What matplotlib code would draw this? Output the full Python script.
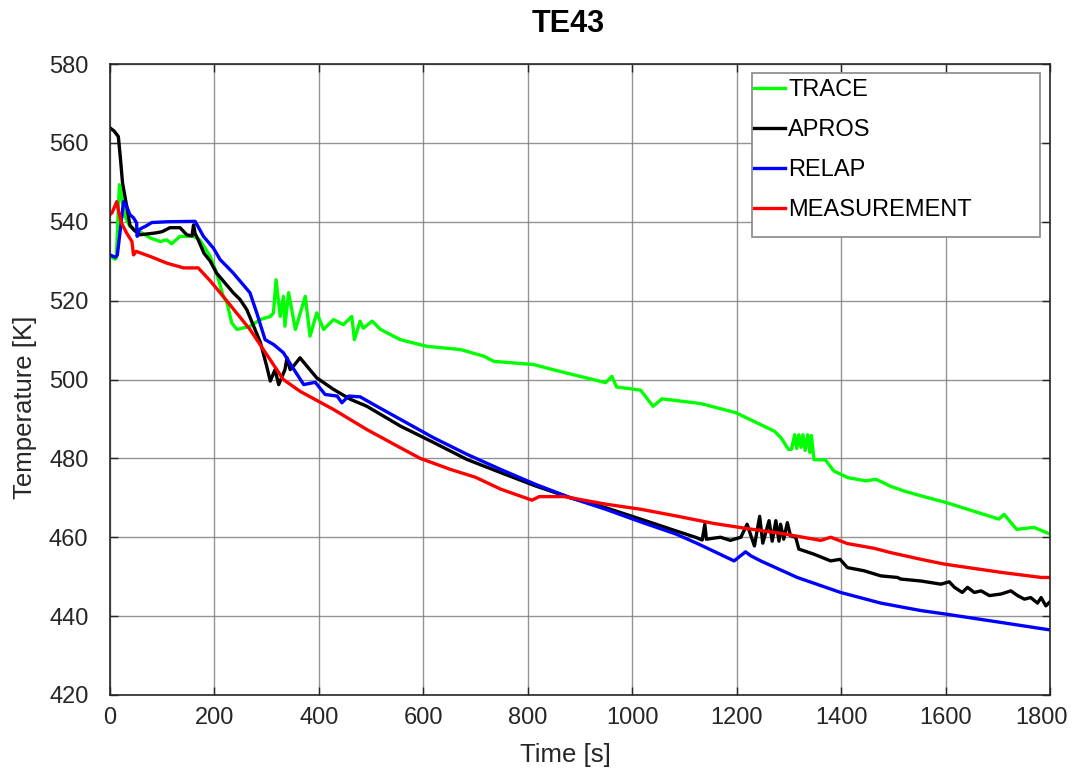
import matplotlib
matplotlib.use("Agg")
import matplotlib.pyplot as plt
from matplotlib.patches import Rectangle
from matplotlib.transforms import ScaledTranslation

plt.rcParams['font.family'] = ['Liberation Sans', 'DejaVu Sans']

# ---- series data: time [s] and temperature [K] ----
trace_t = [0, 10, 12, 18, 22, 29, 38, 57, 77, 96, 109, 118, 134, 160, 172, 192, 204, 217, 224,
           233, 243, 268, 288, 307, 313, 318, 326, 332, 335, 342, 355, 374, 383, 396, 409, 428,
           447, 463, 468, 479, 485, 502, 518, 556, 607, 671, 716, 735, 811, 848, 949, 961, 970,
           1016, 1040, 1057, 1131, 1198, 1272, 1285, 1299, 1305, 1311, 1315, 1319, 1323, 1327,
           1331, 1336, 1340, 1343, 1348, 1370, 1386, 1413, 1447, 1467, 1495, 1521, 1553, 1601,
           1702, 1712, 1736, 1769, 1800]
trace_T = [531.2, 530.5, 530.8, 549.4, 546.4, 541.3, 538.8, 537.5, 535.9, 535.0, 535.4, 534.4,
           536.3, 536.3, 535.4, 531.2, 527.0, 521.1, 519.5, 514.4, 512.7, 513.5, 515.2, 516.0,
           516.9, 525.3, 516.0, 521.1, 513.5, 522.0, 512.7, 521.1, 511.0, 516.9, 512.7, 515.2,
           513.9, 516.0, 510.1, 514.8, 513.0, 514.8, 512.7, 510.1, 508.4, 507.6, 505.9, 504.6,
           503.8, 502.5, 499.2, 500.8, 498.1, 497.3, 493.2, 495.1, 493.9, 491.6, 486.9, 485.2,
           482.3, 482.3, 486.0, 482.5, 486.0, 482.8, 486.0, 482.0, 486.0, 481.5, 485.8, 479.7,
           479.6, 476.8, 475.1, 474.3, 474.7, 472.9, 471.7, 470.5, 468.8, 464.6, 465.8, 462.0,
           462.5, 460.8]

apros_t = [0, 8, 16, 20, 24, 32, 38, 45, 57, 77, 89, 100, 115, 134, 147, 157, 160, 163, 169,
           180, 192, 204, 236, 249, 262, 288, 300, 307, 316, 323, 335, 339, 345, 352, 364, 377,
           396, 428, 460, 492, 556, 620, 684, 748, 815, 882, 949, 1016, 1084, 1121, 1134, 1139,
           1142, 1147, 1169, 1188, 1208, 1220, 1227, 1234, 1244, 1250, 1262, 1268, 1275, 1281,
           1284, 1290, 1297, 1303, 1313, 1319, 1348, 1380, 1398, 1412, 1444, 1476, 1508, 1514,
           1553, 1591, 1607, 1617, 1632, 1642, 1655, 1668, 1684, 1706, 1725, 1738, 1751, 1763,
           1776, 1783, 1792, 1802]
apros_T = [563.8, 563.0, 561.6, 556.0, 549.9, 543.9, 539.2, 538.0, 536.7, 537.0, 537.2, 537.5,
           538.5, 538.5, 536.7, 536.4, 539.2, 537.0, 535.4, 532.0, 530.0, 527.0, 522.0, 520.3,
           517.7, 509.4, 503.4, 499.6, 502.5, 498.7, 502.5, 505.5, 502.5, 503.5, 505.5, 503.4,
           500.4, 497.5, 495.0, 493.2, 488.2, 484.0, 479.7, 476.4, 473.0, 470.0, 467.5, 464.6,
           461.6, 460.0, 459.3, 463.3, 459.5, 459.6, 460.0, 459.2, 460.0, 463.3, 460.5, 457.8,
           465.3, 458.5, 464.2, 459.0, 464.2, 459.0, 463.3, 459.5, 463.7, 460.4, 460.0, 457.0,
           455.7, 454.0, 454.4, 452.3, 451.5, 450.2, 449.8, 449.4, 448.9, 448.1, 448.7, 447.3,
           446.0, 447.3, 446.0, 446.4, 445.2, 445.6, 446.4, 445.2, 444.3, 444.7, 443.3, 444.7,
           442.6, 443.9]

relap_t = [0, 10, 14, 19, 26, 32, 38, 45, 51, 52, 56, 61, 70, 80, 109, 163, 179, 198, 211, 236,
           268, 281, 297, 313, 332, 348, 371, 393, 412, 435, 444, 457, 479, 511, 556, 620, 684,
           748, 815, 882, 949, 1016, 1084, 1125, 1195, 1217, 1227, 1246, 1316, 1399, 1476, 1553,
           1601, 1706, 1770, 1800]
relap_T = [531.6, 531.0, 531.5, 537.1, 545.1, 543.9, 541.8, 541.0, 539.7, 536.3, 538.0, 538.4,
           539.0, 539.8, 540.0, 540.1, 536.3, 533.3, 530.4, 527.0, 522.0, 516.9, 510.1, 508.9,
           506.8, 503.4, 498.7, 499.3, 496.2, 495.8, 494.1, 495.8, 495.6, 493.2, 489.9, 485.2,
           481.0, 477.2, 473.4, 470.0, 467.1, 463.9, 460.8, 458.4, 454.0, 456.3, 455.3, 454.0,
           449.8, 446.0, 443.3, 441.4, 440.5, 438.4, 437.1, 436.5]

meas_t = [0, 4, 13, 16, 22, 32, 42, 45, 50, 77, 109, 141, 169, 192, 211, 268, 332, 364, 428,
          492, 556, 594, 652, 700, 748, 808, 822, 870, 949, 1016, 1084, 1156, 1220, 1284, 1361,
          1380, 1412, 1463, 1495, 1553, 1597, 1706, 1783, 1800]
meas_T = [541.8, 542.3, 545.1, 543.0, 539.7, 537.1, 535.0, 531.6, 532.5, 531.2, 529.5, 528.3,
          528.3, 525.0, 522.0, 512.7, 500.0, 497.0, 492.4, 487.3, 482.7, 480.0, 477.2, 475.2,
          472.2, 469.4, 470.3, 470.3, 468.4, 467.1, 465.4, 463.5, 462.2, 461.0, 459.2, 460.0,
          458.4, 457.2, 456.1, 454.4, 453.2, 451.1, 449.8, 449.8]

series_names = ["TRACE", "APROS", "RELAP", "MEASUREMENT"]
x_ticks = [0, 200, 400, 600, 800, 1000, 1200, 1400, 1600, 1800]
y_ticks = [420, 440, 460, 480, 500, 520, 540, 560, 580]

text_col = '#262626'

fig = plt.figure(figsize=(10.72, 7.76), dpi=100)
ax = fig.add_axes([0.1026, 0.1044, 0.8769, 0.8131])

lw = 2.4
ax.plot(trace_t, trace_T, color='#00FF00', lw=lw, label=series_names[0])
ax.plot(apros_t, apros_T, color='black', lw=lw, label=series_names[1])
ax.plot(relap_t, relap_T, color='#0000FF', lw=lw, label=series_names[2])
ax.plot(meas_t, meas_T, color='#FF0000', lw=lw, label=series_names[3])

ax.set_xlim(0, 1800)
ax.set_ylim(420, 580)
ax.set_xticks(x_ticks)
ax.set_yticks(y_ticks)
ax.grid(True, color='#7a7a7a', lw=1.0, alpha=0.8)
ax.set_axisbelow(True)

for s in ax.spines.values():
    s.set_color(text_col)
    s.set_linewidth(1.2)

ax.tick_params(axis='both', direction='in', length=6, width=1, colors=text_col,
               labelsize=17, top=True, right=True)
ax.tick_params(axis='x', pad=8.5)
ax.tick_params(axis='y', pad=15.5)

# keep the last time label inside the figure
fig.canvas.draw()
last_lbl = ax.get_xticklabels()[-1]
last_lbl.set_transform(last_lbl.get_transform() +
                       ScaledTranslation(-9 / 100, 0, fig.dpi_scale_trans))

ax.set_xlabel("Time [s]", fontsize=18.5, color=text_col)
ax.xaxis.set_label_coords(0.484, -0.076)
ax.set_ylabel("Temperature [K]", fontsize=18.5, color=text_col)
ax.yaxis.set_label_coords(-0.078, 0.4556)
ax.set_title("TE43", fontsize=22, fontweight='bold', color='black', x=0.487, y=1.0512, pad=0)

# legend box drawn as its own frame, entries placed inside it
legend_box = Rectangle((0.683, 0.7258), 0.3064, 0.2599, transform=ax.transAxes,
                       facecolor='white', edgecolor='#888888', lw=1.2, zorder=5)
ax.add_patch(legend_box)
leg = ax.legend(loc='upper left', bbox_to_anchor=(0.685, 0.9763), borderaxespad=0,
                fontsize=17, handlelength=1.3, handletextpad=0.15, labelspacing=0.76,
                borderpad=0.0, frameon=False)
leg.set_zorder(6)
for txt in leg.get_texts():
    txt.set_color('black')

fig.savefig("out.png", dpi=100)
